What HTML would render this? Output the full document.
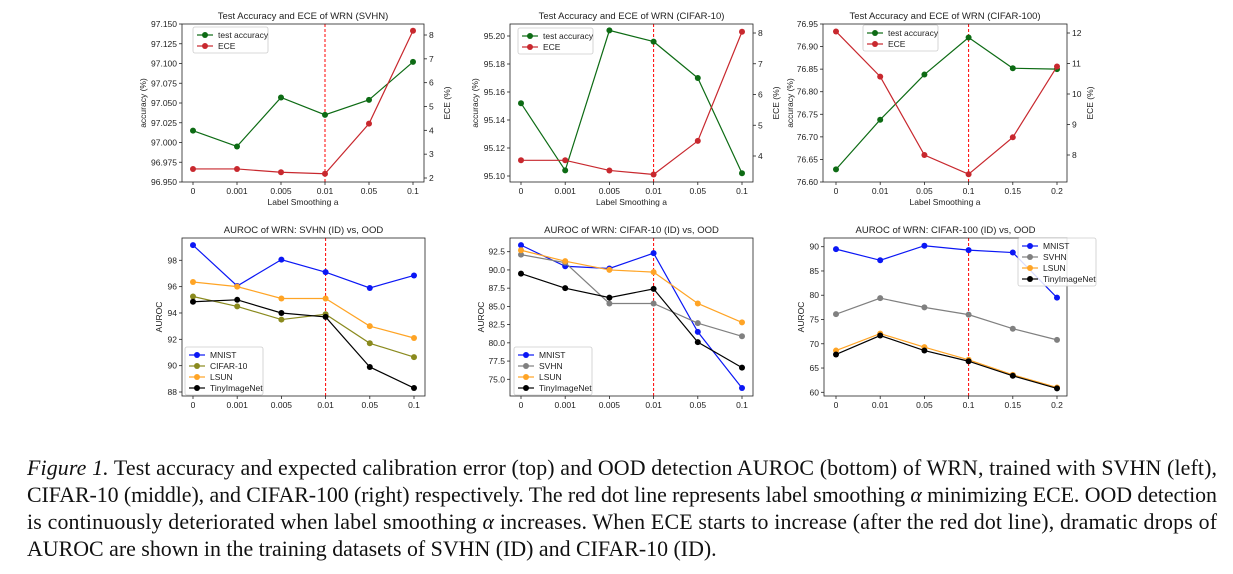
<!DOCTYPE html>
<html><head><meta charset="utf-8">
<style>
body{margin:0;background:#fff;width:1233px;height:569px;overflow:hidden}
svg text{font-family:"Liberation Sans","DejaVu Sans",sans-serif;fill:#222}
svg text.cap{font-family:"Liberation Serif",serif;font-size:21.9px;fill:#111}
</style></head><body>
<svg id="fig" width="1233" height="569" xmlns="http://www.w3.org/2000/svg">
<g id="plots"></g>
<g>
<text class="cap" x="27" y="475" textLength="1190" lengthAdjust="spacing"><tspan font-style="italic">Figure 1.</tspan> Test accuracy and expected calibration error (top) and OOD detection AUROC (bottom) of WRN, trained with SVHN (left),</text>
<text class="cap" x="27" y="502" textLength="1190" lengthAdjust="spacing">CIFAR-10 (middle), and CIFAR-100 (right) respectively. The red dot line represents label smoothing <tspan font-style="italic">α</tspan> minimizing ECE. OOD detection</text>
<text class="cap" x="27" y="529" textLength="1190" lengthAdjust="spacing">is continuously deteriorated when label smoothing <tspan font-style="italic">α</tspan> increases. When ECE starts to increase (after the red dot line), dramatic drops of</text>
<text class="cap" x="27" y="556">AUROC are shown in the training datasets of SVHN (ID) and CIFAR-10 (ID).</text>
</g>
</svg>
<script>
// ---- data ----
const catsA = ["0","0.001","0.005","0.01","0.05","0.1"];
const catsB = ["0","0.01","0.05","0.1","0.15","0.2"];
const acc1 = [97.015,96.995,97.057,97.035,97.054,97.102];
const ece1 = [2.38,2.38,2.24,2.18,4.28,8.18];
const acc2 = [95.152,95.104,95.204,95.196,95.170,95.102];
const ece2 = [3.86,3.86,3.53,3.40,4.49,8.04];
const acc3 = [76.628,76.738,76.838,76.92,76.852,76.850];
const ece3 = [12.05,10.57,8.0,7.37,8.58,10.9];
const accTicks1 = ["96.950","96.975","97.000","97.025","97.050","97.075","97.100","97.125","97.150"];
const eceTicks1 = [2,3,4,5,6,7,8];
const accTicks2 = ["95.10","95.12","95.14","95.16","95.18","95.20"];
const eceTicks2 = [4,5,6,7,8];
const accTicks3 = ["76.60","76.65","76.70","76.75","76.80","76.85","76.90","76.95"];
const eceTicks3 = [8,9,10,11,12];
const svhnMnist = [99.15,96.05,98.05,97.1,95.9,96.85];
const svhnCifar = [95.25,94.5,93.5,93.9,91.7,90.65];
const svhnLsun = [96.35,96.0,95.1,95.1,93.0,92.1];
const svhnTiny = [94.85,95.0,94.0,93.7,89.9,88.3];
const c10Mnist = [93.4,90.5,90.2,92.3,81.5,73.8];
const c10Svhn = [92.1,91.0,85.4,85.4,82.7,80.9];
const c10Lsun = [92.7,91.2,90.0,89.7,85.4,82.8];
const c10Tiny = [89.5,87.5,86.2,87.4,80.1,76.6];
const c100Mnist = [89.5,87.2,90.2,89.3,88.8,79.5];
const c100Svhn = [76.1,79.4,77.5,76.0,73.1,70.8];
const c100Lsun = [68.6,72.1,69.3,66.7,63.6,61.0];
const c100Tiny = [67.8,71.7,68.6,66.4,63.4,60.8];
const aurTicks1 = ["88","90","92","94","96","98"];
const aurTicks2 = ["75.0","77.5","80.0","82.5","85.0","87.5","90.0","92.5"];
const aurTicks3 = ["60","65","70","75","80","85","90"];

const NS="http://www.w3.org/2000/svg";
const root=document.getElementById('plots');
function el(tag,attrs,parent){const e=document.createElementNS(NS,tag);for(const k in attrs)e.setAttribute(k,attrs[k]);(parent||root).appendChild(e);return e;}
function lin(d0,d1,r0,r1){return v=>r0+(v-d0)*(r1-r0)/(d1-d0);}

function panel(cfg){
  const g=el('g',{});
  
  
  const L=cfg.L,R=cfg.R,T=cfg.T,B=cfg.B;
  const xs=lin(0,cfg.cats.length-1,cfg.x0,cfg.x1);
  const ys=lin(cfg.yd[0],cfg.yd[1],cfg.yr[0],cfg.yr[1]);
  const t=el('text',{x:(L+R)/2,y:T-5,'text-anchor':'middle','font-size':'9.5'},g);t.textContent=cfg.title;
  
  
  cfg.cats.forEach((c,i)=>{const x=xs(i);el('line',{x1:x,x2:x,y1:B,y2:B+3,stroke:'#222','stroke-width':0.8},g);
    const tt=el('text',{x:x,y:B+12,'text-anchor':'middle','font-size':'8.5'},g);tt.textContent=c;
    
    });
  if(cfg.xlabel){const xl=el('text',{x:(L+R)/2,y:B+23,'text-anchor':'middle','font-size':'8.5'},g);xl.textContent=cfg.xlabel;
    
    }
  cfg.yticks.forEach(s=>{const y=ys(parseFloat(s));el('line',{x1:L-3,x2:L,y1:y,y2:y,stroke:'#222','stroke-width':0.8},g);
    const tt=el('text',{x:L-5,y:y+3,'text-anchor':'end','font-size':'8.5'},g);tt.textContent=s;
    
    });
  const yl=el('text',{transform:`translate(${cfg.ylx},${(T+B)/2}) rotate(-90)`,'text-anchor':'middle','font-size':'8.5'},g);yl.textContent=cfg.ylabel;
  
  
  let ys2=null;
  if(cfg.y2){ys2=lin(cfg.y2.d[0],cfg.y2.d[1],cfg.y2.r[0],cfg.y2.r[1]);
    cfg.y2.ticks.forEach(v=>{const y=ys2(v);el('line',{x1:R,x2:R+3,y1:y,y2:y,stroke:'#222','stroke-width':0.8},g);
      const tt=el('text',{x:R+5,y:y+3,'font-size':'8.5'},g);tt.textContent=v;
      
      });
    const y2l=el('text',{transform:`translate(${R+26},${(T+B)/2}) rotate(-90)`,'text-anchor':'middle','font-size':'8.5'},g);y2l.textContent='ECE (%)';
    
    }
  const vx=xs(3);
  const vl=el('line',{x1:vx,x2:vx,y1:T,y2:B,stroke:'#f00','stroke-width':1,'stroke-dasharray':'3,2'},g);
  
  
  cfg.series.forEach(s=>{const sc=s.axis2?ys2:ys;
    const pts=s.data.map((v,i)=>xs(i)+','+sc(v)).join(' ');
    const pl=el('polyline',{points:pts,fill:'none',stroke:s.color,'stroke-width':1.2},g);
    
    
    s.data.forEach((v,i)=>{const c=el('circle',{cx:xs(i),cy:sc(v),r:3,fill:s.color},g);
      
      });
  });
  el('rect',{x:L,y:T,width:R-L,height:B-T,fill:'none',stroke:'#222','stroke-width':0.8},g);
  const lg=el('g',{},g);
  
  
  const lx=cfg.leg[0],ly=cfg.leg[1],lw=cfg.leg[2],rh=11;
  el('rect',{x:lx,y:ly,width:lw,height:cfg.series.length*rh+4,fill:'#fff','fill-opacity':0.85,stroke:'#ccc','stroke-width':0.8,rx:2},lg);
  cfg.series.forEach((s,i)=>{const y=ly+8+i*rh;
    el('line',{x1:lx+4,x2:lx+20,y1:y,y2:y,stroke:s.color,'stroke-width':1.2},lg);
    el('circle',{cx:lx+12,cy:y,r:3,fill:s.color},lg);
    const lt=el('text',{x:lx+25,y:y+3,'font-size':'8.5'},lg);lt.textContent=s.label;
    
    });
}
const G='#0d6b14',RD='#c8282e',BL='#0b17f5',OL='#8a8a1e',OR='#ffa425',GR='#808080',BK='#000';
const TT=24,TB=182,BT=238,BB=396;
panel({name:'acc-ece-svhn',title:'Test Accuracy and ECE of WRN (SVHN)',L:182,R:424,T:TT,B:TB,x0:193,x1:413,cats:catsA,
  yd:[96.95,97.15],yr:[182,24],yticks:accTicks1,ylabel:'accuracy (%)',ylx:146,xlabel:'Label Smoothing a',
  y2:{d:[2,8],r:[178,35],ticks:eceTicks1},leg:[193,27,75],
  series:[{label:'test accuracy',data:acc1,color:G},{label:'ECE',data:ece1,color:RD,axis2:true}]});
panel({name:'acc-ece-cifar10',title:'Test Accuracy and ECE of WRN (CIFAR-10)',L:510,R:753,T:TT,B:TB,x0:521,x1:742,cats:catsA,
  yd:[95.10,95.20],yr:[176,36],yticks:accTicks2,ylabel:'accuracy (%)',ylx:478,xlabel:'Label Smoothing a',
  y2:{d:[4,8],r:[156,33],ticks:eceTicks2},leg:[518,28,75],
  series:[{label:'test accuracy',data:acc2,color:G},{label:'ECE',data:ece2,color:RD,axis2:true}]});
panel({name:'acc-ece-cifar100',title:'Test Accuracy and ECE of WRN (CIFAR-100)',L:823,R:1067,T:TT,B:TB,x0:836,x1:1057,cats:catsB,
  yd:[76.60,76.95],yr:[182,24],yticks:accTicks3,ylabel:'accuracy (%)',ylx:793,xlabel:'Label Smoothing a',
  y2:{d:[8,12],r:[155,33],ticks:eceTicks3},leg:[863,25,75],
  series:[{label:'test accuracy',data:acc3,color:G},{label:'ECE',data:ece3,color:RD,axis2:true}]});
panel({name:'auroc-svhn',title:'AUROC of WRN: SVHN (ID) vs, OOD',L:182,R:425,T:BT,B:BB,x0:193,x1:414,cats:catsA,
  yd:[88,98],yr:[392,260.3],yticks:aurTicks1,ylabel:'AUROC',ylx:162,leg:[185,347,78],
  series:[{label:'MNIST',data:svhnMnist,color:BL},{label:'CIFAR-10',data:svhnCifar,color:OL},{label:'LSUN',data:svhnLsun,color:OR},{label:'TinyImageNet',data:svhnTiny,color:BK}]});
panel({name:'auroc-cifar10',title:'AUROC of WRN: CIFAR-10 (ID) vs, OOD',L:510,R:753,T:BT,B:BB,x0:521,x1:742,cats:catsA,
  yd:[75,92.5],yr:[379.3,251.7],yticks:aurTicks2,ylabel:'AUROC',ylx:484,leg:[514,347,78],
  series:[{label:'MNIST',data:c10Mnist,color:BL},{label:'SVHN',data:c10Svhn,color:GR},{label:'LSUN',data:c10Lsun,color:OR},{label:'TinyImageNet',data:c10Tiny,color:BK}]});
panel({name:'auroc-cifar100',title:'AUROC of WRN: CIFAR-100 (ID) vs, OOD',L:824,R:1067,T:BT,B:BB,x0:836,x1:1057,cats:catsB,
  yd:[60,90],yr:[392.3,246.7],yticks:aurTicks3,ylabel:'AUROC',ylx:804,leg:[1018,238,78],
  series:[{label:'MNIST',data:c100Mnist,color:BL},{label:'SVHN',data:c100Svhn,color:GR},{label:'LSUN',data:c100Lsun,color:OR},{label:'TinyImageNet',data:c100Tiny,color:BK}]});
</script>
</body></html>
